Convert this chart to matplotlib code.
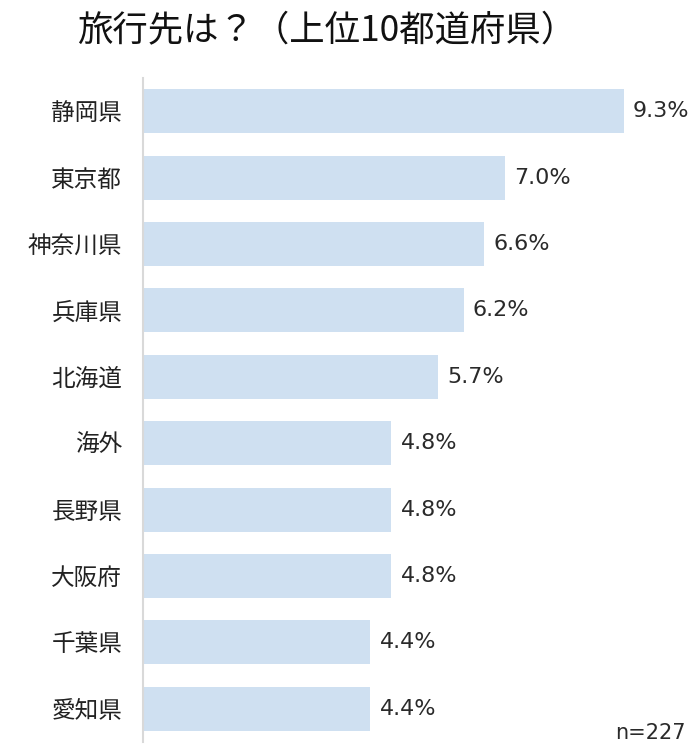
import matplotlib
matplotlib.use("Agg")
import matplotlib.pyplot as plt

plt.rcParams['font.family'] = ['Noto Sans CJK JP', 'DejaVu Sans']

prefs = ["静岡県", "東京都", "神奈川県", "兵庫県", "北海道", "海外", "長野県", "大阪府", "千葉県", "愛知県"]
share = [9.3, 7.0, 6.6, 6.2, 5.7, 4.8, 4.8, 4.8, 4.4, 4.4]
labels = ["9.3%", "7.0%", "6.6%", "6.2%", "5.7%", "4.8%", "4.8%", "4.8%", "4.4%", "4.4%"]

fig = plt.figure(figsize=(6.96, 7.55), dpi=100)
ax = fig.add_axes([143 / 696, 1 - 742 / 755, 553 / 696, (742 - 78) / 755])

ypos = list(range(len(prefs)))
ax.barh(ypos, share, height=0.66, color="#cfe0f1")
for y, v, t in zip(ypos, share, labels):
    ax.text(v + 0.18, y, t, va="center", ha="left", fontsize=16,
            family="DejaVu Sans", color="#2a2a2a")

ax.set_xlim(0, 553 / 51.7)
ax.set_ylim(len(prefs) - 0.5, -0.5)
ax.set_yticks(ypos)
ax.set_yticklabels(prefs, fontsize=17, color="#222222")
ax.tick_params(axis="y", length=0, pad=15)
ax.set_xticks([])
for s in ["top", "right", "bottom"]:
    ax.spines[s].set_visible(False)
ax.spines["left"].set_color("#d9d9d9")
ax.spines["left"].set_linewidth(1.5)

fig.text(327 / 696, 1 - 31 / 755, "旅行先は？（上位10都道府県）", ha="center", va="center",
         fontsize=25.5, color="#111111")
fig.text(686 / 696, 1 - 733 / 755, "n=227", ha="right", va="center", fontsize=15,
         family="DejaVu Sans", color="#2a2a2a")

fig.savefig("out.png", dpi=100)
